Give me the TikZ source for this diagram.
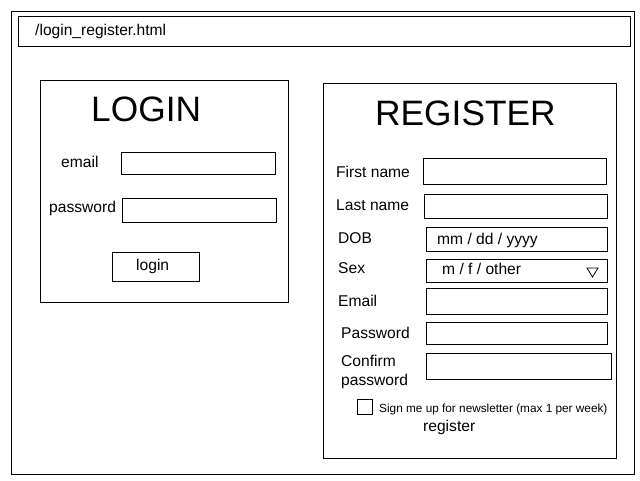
\documentclass[tikz,border=0pt]{standalone}
\usepackage{fontspec}
\setmainfont{Liberation Sans}
\begin{document}
\begin{tikzpicture}[x=1pt,y=-1pt,
  box/.style={draw, line width=1pt, inner sep=0pt},
  lbl/.style={anchor=base west, inner sep=0pt, font=\fontsize{15.6}{19.3}\selectfont},
  ttl/.style={anchor=base west, inner sep=0pt, font=\fontsize{35.3}{40}\selectfont},
  small/.style={anchor=base west, inner sep=0pt, font=\fontsize{11.8}{14}\selectfont}]
\useasboundingbox (0,0) rectangle (640,480);
% frames
\node[box, minimum width=623pt, minimum height=463pt] (outer) at (322.5,242.5) {};
\node[box, minimum width=612pt, minimum height=30pt] (url) at (324,31) {};
\node[lbl] (urltext) at (35,35) {/login\_register.html};
% login
\node[box, minimum width=248pt, minimum height=222pt] (loginbox) at (164,191) {};
\node[ttl] (logintitle) at (91,121) {LOGIN};
\node[lbl] (emaillbl) at (61,167) {email};
\node[box, minimum width=154pt, minimum height=22pt] (emailfld) at (198,163) {};
\node[lbl] (pwlbl) at (49,212) {password};
\node[box, minimum width=154pt, minimum height=24pt] (pwfld) at (199,210) {};
\node[box, minimum width=87pt, minimum height=29pt] (loginbtn) at (155.5,266.5) {};
\node[lbl] (logintext) at (136,270) {login};
% register
\node[box, minimum width=293pt, minimum height=375pt] (regbox) at (469.5,270.5) {};
\node[ttl] (regtitle) at (375,125) {REGISTER};
\node[lbl] (fnlbl) at (336,177) {First name};
\node[box, minimum width=183pt, minimum height=26pt] (fnfld) at (514.5,171) {};
\node[lbl] (lnlbl) at (336,210) {Last name};
\node[box, minimum width=183pt, minimum height=24pt] (lnfld) at (515.5,206) {};
\node[lbl] (doblbl) at (338,243) {DOB};
\node[box, minimum width=181pt, minimum height=24pt] (dobfld) at (516.5,239) {};
\node[lbl] (dobtext) at (437,244) {mm / dd / yyyy};
\node[lbl] (sexlbl) at (338,273) {Sex};
\node[box, minimum width=181pt, minimum height=23pt] (sexfld) at (516.5,270.5) {};
\node[lbl] (sextext) at (442,274.5) {m / f / other};
\draw[line width=0.8pt] (587,268) -- (598,268) -- (592.5,277) -- cycle;
\node[lbl] (rmaillbl) at (338,306) {Email};
\node[box, minimum width=181pt, minimum height=26pt] (rmailfld) at (516.5,301) {};
\node[lbl] (rpwlbl) at (341,338) {Password};
\node[box, minimum width=181pt, minimum height=22pt] (rpwfld) at (516.5,333) {};
\node[lbl] (cpwlbl1) at (341,366) {Confirm};
\node[lbl] (cpwlbl2) at (341,385.5) {password};
\node[box, minimum width=185pt, minimum height=26pt] (cpwfld) at (518.5,366) {};
\node[box, minimum width=15pt, minimum height=15pt] (chk) at (364.5,406.5) {};
\node[small] (chktext) at (379,412) {Sign me up for newsletter (max 1 per week)};
\node[lbl] (regtext) at (423,431) {register};
\end{tikzpicture}
\end{document}
